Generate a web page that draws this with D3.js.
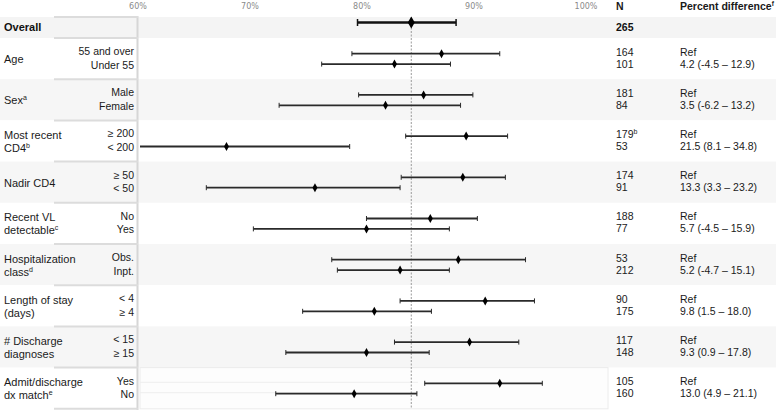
<!DOCTYPE html>
<html>
<head>
<meta charset="utf-8">
<script src="https://cdn.jsdelivr.net/npm/d3@7"></script>
<style>
  body { margin: 0; background: #fff; }
  svg { font-family: "Liberation Sans", Arial, sans-serif; }
</style>
</head>
<body>
<div id="chart"></div>
<script>
// groups, with label lines [text, superscript]
const groups = ['age', 'sex', 'cd4', 'nadir', 'vl', 'hosp', 'los', 'dx', 'match']
const groupLabels = [
  [['Age', '']],
  [['Sex', 'a']],
  [['Most recent', ''], ['CD4', 'b']],
  [['Nadir CD4', '']],
  [['Recent VL', ''], ['detectable', 'c']],
  [['Hospitalization', ''], ['class', 'd']],
  [['Length of stay', ''], ['(days)', '']],
  [['# Discharge', ''], ['diagnoses', '']],
  [['Admit/discharge', ''], ['dx match', 'e']]
]
const subLabels = [
  ['55 and over', 'Under 55'],
  ['Male', 'Female'],
  ['≥ 200', '< 200'],
  ['≥ 50', '< 50'],
  ['No', 'Yes'],
  ['Obs.', 'Inpt.'],
  ['< 4', '≥ 4'],
  ['< 15', '≥ 15'],
  ['Yes', 'No']
]
const nVals = [
  ['164', '101'], ['181', '84'], ['179', '53'], ['174', '91'], ['188', '77'],
  ['53', '212'], ['90', '175'], ['117', '148'], ['105', '160']
]
const nSup = [['', ''], ['', ''], ['b', ''], ['', ''], ['', ''], ['', ''], ['', ''], ['', ''], ['', '']]
const estimates = [
  [87.1, 82.9], [85.5, 82.1], [89.3, 67.9], [89.0, 75.8], [86.1, 80.4],
  [88.6, 83.4], [91.0, 81.1], [89.6, 80.4], [92.3, 79.3]
]
const lower = [
  [79.1, 76.4], [79.7, 72.6], [83.9, 56.9], [83.5, 66.1], [80.4, 70.3],
  [77.3, 77.8], [83.4, 74.7], [82.9, 73.2], [85.6, 72.3]
]
const upper = [
  [92.3, 87.9], [89.9, 88.8], [93.0, 78.9], [92.8, 83.4], [90.3, 87.8],
  [94.6, 87.8], [95.4, 86.2], [94.0, 86.0], [96.1, 84.9]
]
const pctDiff = [
  '4.2 (-4.5 – 12.9)', '3.5 (-6.2 – 13.2)', '21.5 (8.1 – 34.8)', '13.3 (3.3 – 23.2)',
  '5.7 (-4.5 – 15.9)', '5.2 (-4.7 – 15.1)', '9.8 (1.5 – 18.0)', '9.3 (0.9 – 17.8)',
  '13.0 (4.9 – 21.1)'
]
const overall = { est: 84.4, lo: 79.6, hi: 88.4, n: '265' }
const ticks = [60, 70, 80, 90, 100]

const width = 778
const height = 412

const svg = d3
  .select('#chart')
  .append('svg')
  .attr('width', width)
  .attr('height', height)

const x = d3.scaleLinear().domain([60, 100]).range([138, 586])
const y = d3.scaleBand().domain(groups).range([38, 408.8])
const bw = y.bandwidth()
const rowOff = [15.7, 26.1]

// background bands
svg.append('rect')
  .attr('x', 0).attr('y', 17).attr('width', 776).attr('height', 21)
  .attr('fill', '#f4f4f4')
svg.selectAll('.band')
  .data(groups)
  .enter()
  .append('rect')
  .attr('x', 0)
  .attr('y', d => y(d))
  .attr('width', 776)
  .attr('height', bw)
  .attr('fill', (d, i) => (i % 2 === 1 ? '#f6f6f6' : '#fff'))
svg.append('rect')
  .attr('x', 140).attr('y', y('match')).attr('width', 468).attr('height', bw)
  .attr('fill', '#fdfdfd').attr('stroke', '#ececec')
// faint lines in last band
svg.selectAll('.faint')
  .data(rowOff)
  .enter()
  .append('line')
  .attr('x1', 140).attr('x2', 418)
  .attr('y1', d => y('match') + d - 1)
  .attr('y2', d => y('match') + d - 1)
  .attr('stroke', '#eeeeee')

// sub-label column borders
svg.append('line')
  .attr('x1', 137.5).attr('x2', 137.5).attr('y1', 16).attr('y2', 410)
  .attr('stroke', '#d6d6d6').attr('stroke-width', 2)
const borders = [17].concat(groups.map(g => y(g))).concat([y('match') + bw])
svg.selectAll('.hb')
  .data(borders)
  .enter()
  .append('line')
  .attr('x1', 54).attr('x2', 138)
  .attr('y1', d => d).attr('y2', d => d)
  .attr('stroke', '#dcdcdc').attr('stroke-width', 2)

// axis tick labels
svg.selectAll('.tick')
  .data(ticks)
  .enter()
  .append('text')
  .attr('x', d => x(d))
  .attr('y', 9)
  .attr('text-anchor', 'middle')
  .style('font-size', '8px')
  .style('font-family', 'Verdana, "DejaVu Sans", sans-serif')
  .attr('fill', '#8a8a8a')
  .text(d => d + '%')

// headers
svg.append('text').attr('x', 616).attr('y', 10)
  .style('font-size', '10.5px').style('font-weight', 'bold').attr('fill', '#1a1a1a')
  .text('N')
const ph = svg.append('text').attr('x', 680).attr('y', 10)
  .style('font-size', '10.5px').style('font-weight', 'bold').attr('fill', '#1a1a1a')
ph.append('tspan').text('Percent difference')
ph.append('tspan').attr('dy', -4).style('font-size', '6.5px').text('f')

// reference line
svg.append('line')
  .attr('x1', x(overall.est)).attr('x2', x(overall.est))
  .attr('y1', 17).attr('y2', 409)
  .attr('stroke', '#9a9a9a').attr('stroke-dasharray', '2,1.5')

// overall row
svg.append('text').attr('x', 4).attr('y', 31)
  .style('font-size', '11px').style('font-weight', 'bold').attr('fill', '#111')
  .text('Overall')
svg.append('text').attr('x', 616).attr('y', 31)
  .style('font-size', '10.5px').style('font-weight', 'bold').attr('fill', '#111')
  .text(overall.n)
const oy = 22.5
svg.append('line')
  .attr('x1', x(overall.lo)).attr('x2', x(overall.hi))
  .attr('y1', oy).attr('y2', oy)
  .attr('stroke', '#111').attr('stroke-width', 2.5)
svg.selectAll('.ocap')
  .data([overall.lo, overall.hi])
  .enter()
  .append('line')
  .attr('x1', d => x(d)).attr('x2', d => x(d))
  .attr('y1', oy - 3.5).attr('y2', oy + 3.5)
  .attr('stroke', '#111').attr('stroke-width', 1.5)
svg.append('path')
  .attr('d', `M${x(overall.est)},${oy - 6}l3.5,6l-3.5,6l-3.5,-6z`)
  .attr('fill', '#000')

// group labels
groups.forEach((g, gi) => {
  const top = y(g)
  const lines = groupLabels[gi]
  lines.forEach((ln, li) => {
    const ty = lines.length === 1 ? top + 25 : top + 18.5 + li * 13
    const t = svg.append('text').attr('x', 4).attr('y', ty)
      .style('font-size', '11px').attr('fill', '#1a1a1a')
    t.append('tspan').text(ln[0])
    if (ln[1]) t.append('tspan').attr('dy', -4).style('font-size', '7px').text(ln[1])
  })

  const rows = [0, 1].map(r => ({
    r: r,
    yy: top + rowOff[r],
    sub: subLabels[gi][r],
    n: nVals[gi][r],
    nsup: nSup[gi][r],
    est: estimates[gi][r],
    lo: lower[gi][r],
    hi: upper[gi][r],
    pct: r === 0 ? 'Ref' : pctDiff[gi]
  }))

  const gg = svg.append('g')

  // sub-labels
  gg.selectAll('.sub')
    .data(rows)
    .enter()
    .append('text')
    .attr('x', 134)
    .attr('y', d => top + 17 + d.r * 13.5)
    .attr('text-anchor', 'end')
    .style('font-size', '10.5px')
    .attr('fill', '#1a1a1a')
    .text(d => d.sub)

  // N
  const nt = gg.selectAll('.n')
    .data(rows)
    .enter()
    .append('text')
    .attr('x', 616)
    .attr('y', d => top + 17.5 + d.r * 12)
    .style('font-size', '10.5px')
    .attr('fill', '#1a1a1a')
  nt.append('tspan').text(d => d.n)
  nt.append('tspan').attr('dy', -4).style('font-size', '7px').text(d => d.nsup)

  // percent difference
  gg.selectAll('.pct')
    .data(rows)
    .enter()
    .append('text')
    .attr('x', 680)
    .attr('y', d => top + 17.5 + d.r * 12)
    .style('font-size', '10.5px')
    .attr('fill', '#1a1a1a')
    .text(d => d.pct)

  // error bars
  gg.selectAll('.ci')
    .data(rows)
    .enter()
    .append('line')
    .attr('x1', d => x(Math.max(d.lo, 60)) + (d.lo < 60 ? 2 : 0))
    .attr('x2', d => x(d.hi))
    .attr('y1', d => d.yy).attr('y2', d => d.yy)
    .attr('stroke', '#2a2a2a').attr('stroke-width', 1.8)
  gg.selectAll('.capl')
    .data(rows.filter(d => d.lo >= 60))
    .enter()
    .append('line')
    .attr('x1', d => x(d.lo)).attr('x2', d => x(d.lo))
    .attr('y1', d => d.yy - 2.5).attr('y2', d => d.yy + 2.5)
    .attr('stroke', '#2a2a2a').attr('stroke-width', 1)
  gg.selectAll('.capr')
    .data(rows)
    .enter()
    .append('line')
    .attr('x1', d => x(d.hi)).attr('x2', d => x(d.hi))
    .attr('y1', d => d.yy - 2.5).attr('y2', d => d.yy + 2.5)
    .attr('stroke', '#2a2a2a').attr('stroke-width', 1)
  gg.selectAll('.pt')
    .data(rows)
    .enter()
    .append('path')
    .attr('d', d => `M${x(d.est)},${d.yy - 4.5}l2.5,4.5l-2.5,4.5l-2.5,-4.5z`)
    .attr('fill', '#000')
})
</script>
</body>
</html>
